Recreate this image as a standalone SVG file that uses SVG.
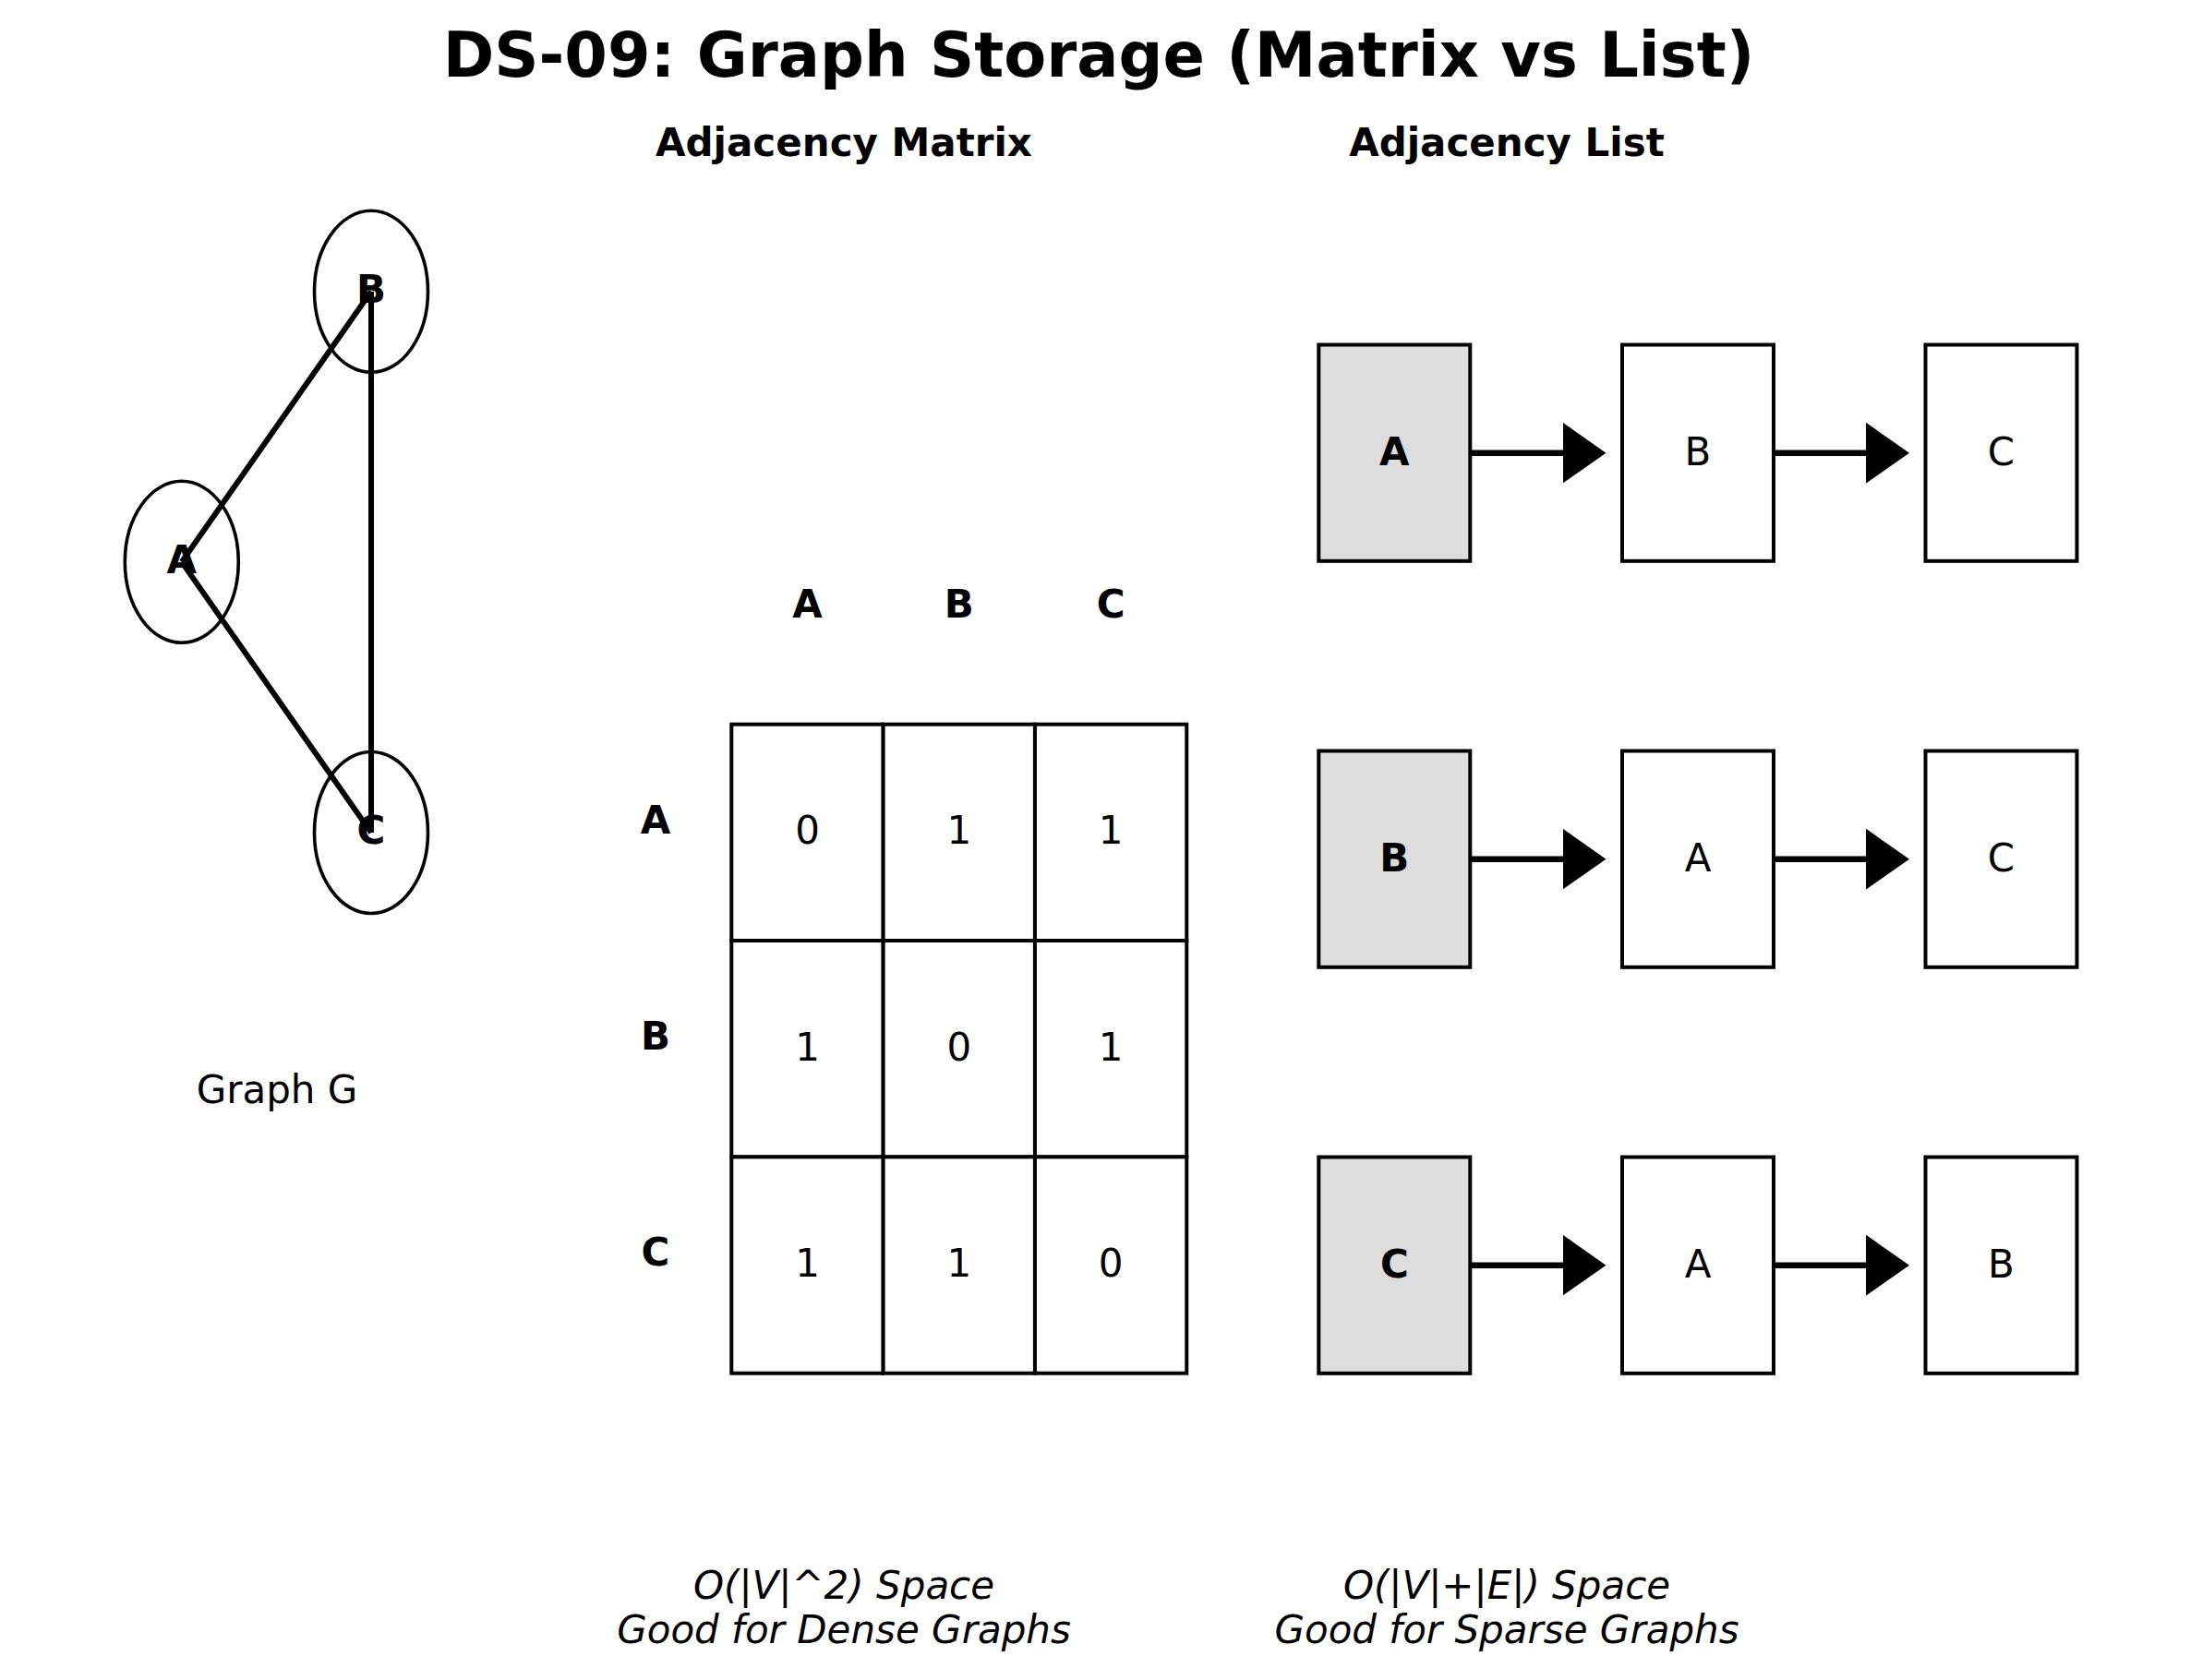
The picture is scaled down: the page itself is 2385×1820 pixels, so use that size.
<svg xmlns="http://www.w3.org/2000/svg" width="2385" height="1820" viewBox="0 0 2385 1820">
<defs>
<style>
text{font-family:"DejaVu Sans","Liberation Sans",sans-serif;fill:#000;text-anchor:middle}
.title{font-size:67px;font-weight:bold}
.hdr{font-size:42px;font-weight:bold}
.b{font-size:42px;font-weight:bold}
.n{font-size:42px}
.it{font-size:42px;font-style:italic}
.node{fill:none;stroke:#000;stroke-width:3.6}
.edge{stroke:#000;stroke-width:6;fill:none}
.cell{fill:#fff;stroke:#000;stroke-width:4}
.head{fill:#ddd;stroke:#000;stroke-width:4}
.box{fill:#fff;stroke:#000;stroke-width:4}
.arr{stroke:#000;stroke-width:6.5;fill:none;marker-end:url(#ah)}
</style>
<marker id="ah" markerUnits="userSpaceOnUse" viewBox="0 0 47 66" markerWidth="47" markerHeight="66" refX="8" refY="33" orient="auto">
<path d="M0,0 L47,33 L0,66 Z" fill="#000"/>
</marker>
</defs>
<rect width="2385" height="1820" fill="#fff"/>
<text class="title" x="1190" y="83">DS-09: Graph Storage (Matrix vs List)</text>
<text class="hdr" x="914" y="169">Adjacency Matrix</text>
<text class="hdr" x="1632" y="169">Adjacency List</text>

<g id="graph-edges">
<line class="edge" x1="196.8" y1="608.8" x2="402" y2="315.8"/>
<line class="edge" x1="196.8" y1="608.8" x2="402" y2="902"/>
<line class="edge" x1="402" y1="315.8" x2="402" y2="902"/>
</g>
<g id="node-A"><ellipse class="node" cx="196.8" cy="608.8" rx="61.5" ry="87.5"/><text class="b" x="196.8" y="620.8">A</text></g>
<g id="node-B"><ellipse class="node" cx="402" cy="315.8" rx="61.5" ry="87.5"/><text class="b" x="402" y="327.8">B</text></g>
<g id="node-C"><ellipse class="node" cx="402" cy="902" rx="61.5" ry="87.5"/><text class="b" x="402" y="914">C</text></g>
<text class="n" x="300" y="1195">Graph G</text>

<g id="matrix">
<text class="b" x="874.5" y="669">A</text>
<text class="b" x="1038.8" y="669">B</text>
<text class="b" x="1203.1" y="669">C</text>
<text class="b" x="710" y="902.7">A</text>
<text class="b" x="710" y="1137">B</text>
<text class="b" x="710" y="1371.3">C</text>
<rect class="cell" x="792.3" y="784.7" width="164.33" height="234.33"/>
<rect class="cell" x="956.63" y="784.7" width="164.33" height="234.33"/>
<rect class="cell" x="1120.96" y="784.7" width="164.33" height="234.33"/>
<rect class="cell" x="792.3" y="1019.03" width="164.33" height="234.33"/>
<rect class="cell" x="956.63" y="1019.03" width="164.33" height="234.33"/>
<rect class="cell" x="1120.96" y="1019.03" width="164.33" height="234.33"/>
<rect class="cell" x="792.3" y="1253.36" width="164.33" height="234.33"/>
<rect class="cell" x="956.63" y="1253.36" width="164.33" height="234.33"/>
<rect class="cell" x="1120.96" y="1253.36" width="164.33" height="234.33"/>
<text class="n" x="874.5" y="914.3">0</text>
<text class="n" x="1038.8" y="914.3">1</text>
<text class="n" x="1203.1" y="914.3">1</text>
<text class="n" x="874.5" y="1148.6">1</text>
<text class="n" x="1038.8" y="1148.6">0</text>
<text class="n" x="1203.1" y="1148.6">1</text>
<text class="n" x="874.5" y="1383">1</text>
<text class="n" x="1038.8" y="1383">1</text>
<text class="n" x="1203.1" y="1383">0</text>
</g>

<g id="list-connectors">
<line class="arr" x1="1592.3" y1="490.7" x2="1700.5" y2="490.7"/>
<line class="arr" x1="1921" y1="490.7" x2="2029" y2="490.7"/>
<line class="arr" x1="1592.3" y1="930.7" x2="1700.5" y2="930.7"/>
<line class="arr" x1="1921" y1="930.7" x2="2029" y2="930.7"/>
<line class="arr" x1="1592.3" y1="1370.7" x2="1700.5" y2="1370.7"/>
<line class="arr" x1="1921" y1="1370.7" x2="2029" y2="1370.7"/>
</g>

<g id="list-A">
<rect class="head" x="1428.3" y="373.5" width="164" height="234.3"/>
<text class="b" x="1510.3" y="503.7">A</text>
<rect class="box" x="1757" y="373.5" width="164" height="234.3"/>
<text class="n" x="1839" y="503.7">B</text>
<rect class="box" x="2085.5" y="373.5" width="164" height="234.3"/>
<text class="n" x="2167.5" y="503.7">C</text>
</g>
<g id="list-B">
<rect class="head" x="1428.3" y="813.5" width="164" height="234.3"/>
<text class="b" x="1510.3" y="943.7">B</text>
<rect class="box" x="1757" y="813.5" width="164" height="234.3"/>
<text class="n" x="1839" y="943.7">A</text>
<rect class="box" x="2085.5" y="813.5" width="164" height="234.3"/>
<text class="n" x="2167.5" y="943.7">C</text>
</g>
<g id="list-C">
<rect class="head" x="1428.3" y="1253.5" width="164" height="234.3"/>
<text class="b" x="1510.3" y="1383.7">C</text>
<rect class="box" x="1757" y="1253.5" width="164" height="234.3"/>
<text class="n" x="1839" y="1383.7">A</text>
<rect class="box" x="2085.5" y="1253.5" width="164" height="234.3"/>
<text class="n" x="2167.5" y="1383.7">B</text>
</g>

<text class="it" x="914" y="1732">O(|V|^2) Space</text>
<text class="it" x="914" y="1780">Good for Dense Graphs</text>
<text class="it" x="1632" y="1732">O(|V|+|E|) Space</text>
<text class="it" x="1632" y="1780">Good for Sparse Graphs</text>
</svg>
